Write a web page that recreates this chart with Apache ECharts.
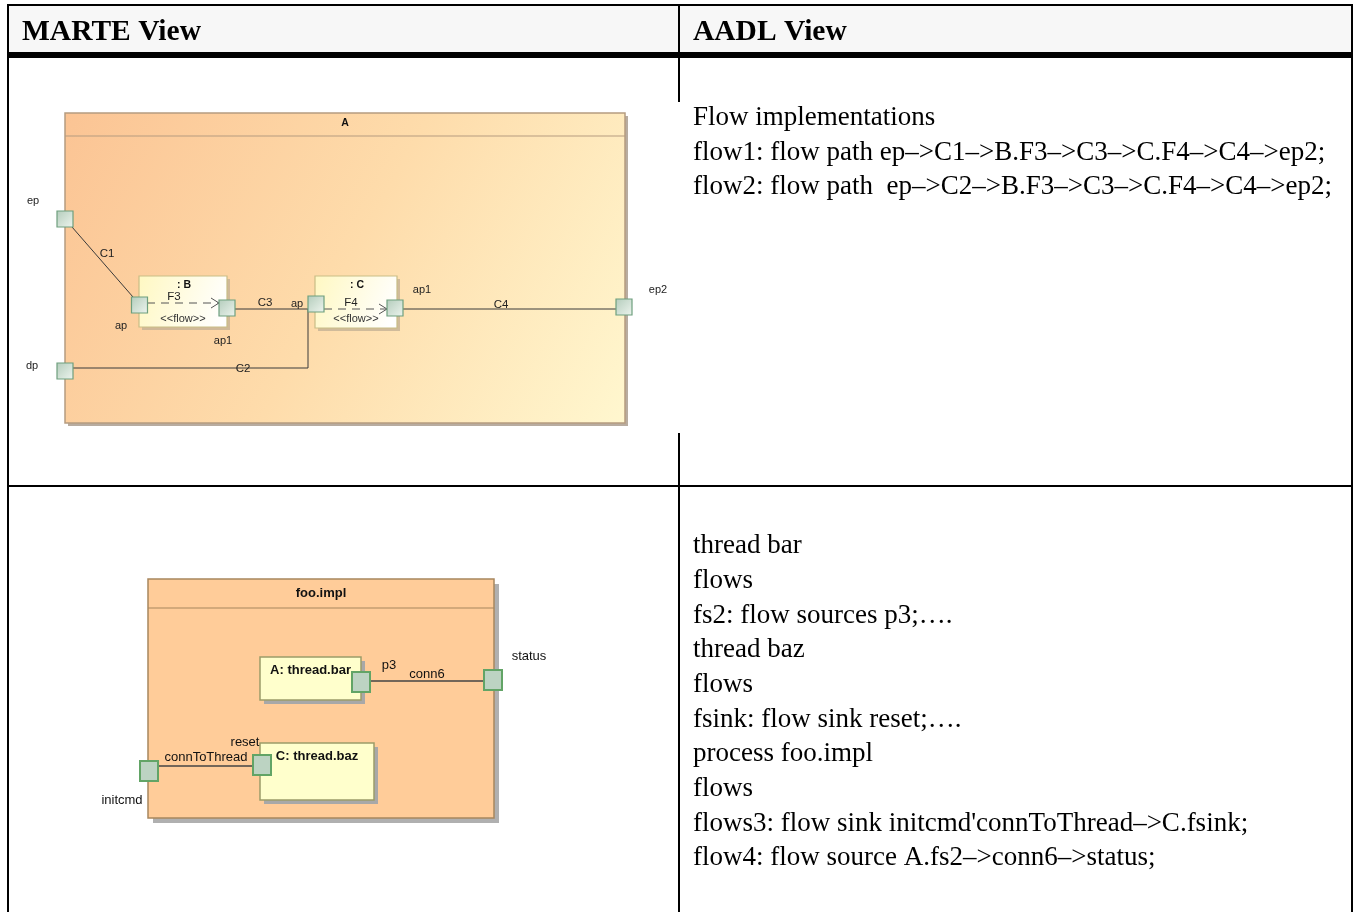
<!DOCTYPE html>
<html><head><meta charset="utf-8">
<script src="https://cdn.jsdelivr.net/npm/echarts@6/dist/echarts.min.js"></script>
<style>html,body{margin:0;padding:0;background:#fff}#c{width:1358px;height:912px}</style>
</head><body><div id="c"></div>
<script>
// ---------- table content ----------
const headerLabels = ['MARTE View', 'AADL View'];
const headerAnchors = [[22, 32], [693, 32]];
const aadlFlowText = [
  'Flow implementations',
  'flow1: flow path ep\u2013>C1\u2013>B.F3\u2013>C3\u2013>C.F4\u2013>C4\u2013>ep2;',
  'flow2: flow path  ep\u2013>C2\u2013>B.F3\u2013>C3\u2013>C.F4\u2013>C4\u2013>ep2;'
];
const aadlFlowAnchors = [[693, 118], [693, 153], [693, 187]];
const aadlProcText = [
  'thread bar', 'flows', 'fs2: flow sources p3;\u2026.', 'thread baz', 'flows',
  'fsink: flow sink reset;\u2026.', 'process foo.impl', 'flows',
  "flows3: flow sink initcmd'connToThread\u2013>C.fsink;",
  'flow4: flow source A.fs2\u2013>conn6\u2013>status;'
];
const aadlProcAnchors = [[693,546],[693,581],[693,616],[693,650],[693,685],[693,720],[693,754],[693,789],[693,824],[693,858]];
const headerBand = [[8, 5, 1352, 55]];
const tableRules = [[7,5,1353,5],[8,5,8,912],[1352,5,1352,912],[679,5,679,102],[679,433,679,912],[8,486,1352,486]];
const headerRule = [[8,55,1352,55]];

// ---------- diagram A (MARTE composite structure) ----------
const aContainerNames = ['A'];
const aContainerBoxes = [[65,113,560,310,23]];
const aPartNames = [': B', ': C'];
const aPartBoxes = [[139,276,88,51],[315,276,82,52]];
const aFlowNames = ['F3', 'F4'];
const aFlowPaths = [[147,303,219,303],[324,309,387,309]];
const aPortNames = ['ep','dp','ap','ap1','ap','ap1','ep2'];
const aPortCenters = [[65,219],[65,371],[139.5,305],[227,308],[316,304],[395,308],[624,307]];
const aPortLabelAt = [[33,201],[32,366],[121,326],[223,341],[297,304],[422,290],[658,290]];
const aConnNames = ['C1','C3','C4','C2'];
const aConnPaths = [[[72,227],[133,297]],[[235,309],[308,309]],[[403,309],[616,309]],[[73,368],[308,368],[308,309]]];
const aConnLabelAt = [[107,254],[265,303],[501,305],[243,369]];

// ---------- diagram foo.impl ----------
const fContainerNames = ['foo.impl'];
const fContainerBoxes = [[148,579,346,239,29]];
const fPartNames = ['A: thread.bar', 'C: thread.baz'];
const fPartBoxes = [[260,657,101,43],[260,743,114,57]];
const fPortNames = ['p3','status','reset','initcmd'];
const fPortCenters = [[361,682],[493,680],[262,765],[149,771]];
const fPortLabelAt = [[389,665],[529,656],[245,742],[122,800]];
const fConnNames = ['conn6','connToThread'];
const fConnPaths = [[[370,681],[484,681]],[[158,766],[253,766]]];
const fConnLabelAt = [[427,674],[206,757]];

// ---------- rendering ----------
const G = echarts.graphic;
function cs(data, build, z){
  return {type:'custom', coordinateSystem:'cartesian2d', silent:true, animation:false, clip:false, z:z||2,
    data:data, encode:{x:0,y:1},
    renderItem:function(params, api){ return build(params.dataIndex, api); }};
}
function txt(api, x, y, s, style){
  const p = api.coord([x,y]);
  return {type:'text', x:p[0], y:p[1], style:Object.assign({text:s, fill:'#222', align:'center', verticalAlign:'middle',
    fontFamily:'Liberation Sans, Arial, sans-serif', fontSize:11}, style||{})};
}
function rectBetween(api, x, y, w, h){
  const p0 = api.coord([x,y]), p1 = api.coord([x+w,y+h]);
  return {x:p0[0], y:p0[1], width:p1[0]-p0[0], height:p1[1]-p0[1]};
}
function lineSeg(api, x1,y1,x2,y2, style){
  const a = api.coord([x1,y1]), b = api.coord([x2,y2]);
  return {type:'line', shape:{x1:a[0],y1:a[1],x2:b[0],y2:b[1]}, style:style};
}
const serif = 'Liberation Serif, Times New Roman, serif';

const series = [];
series.push(cs(headerBand, (i, api) => {
  const b = headerBand[i]; const r = rectBetween(api, b[0], b[1], b[2]-b[0], b[3]-b[1]);
  return {type:'rect', shape:r, style:{fill:'#f7f7f7'}};
}, 1));
series.push(cs(headerAnchors, (i, api) => txt(api, headerAnchors[i][0], headerAnchors[i][1], headerLabels[i],
  {align:'left', fill:'#000', fontFamily:serif, fontWeight:'bold', fontSize:29.5}), 5));
series.push(cs(aadlFlowAnchors, (i, api) => txt(api, aadlFlowAnchors[i][0], aadlFlowAnchors[i][1], aadlFlowText[i],
  {align:'left', fill:'#000', fontFamily:serif, fontSize:27}), 5));
series.push(cs(aadlProcAnchors, (i, api) => txt(api, aadlProcAnchors[i][0], aadlProcAnchors[i][1], aadlProcText[i],
  {align:'left', fill:'#000', fontFamily:serif, fontSize:27}), 5));
series.push(cs(tableRules.map(r=>[r[0],r[1]]), (i, api) => {
  const r = tableRules[i]; return lineSeg(api, r[0], r[1], r[2], r[3], {stroke:'#000', lineWidth:2});
}, 6));
series.push(cs(headerRule.map(r=>[r[0],r[1]]), (i, api) => {
  const r = headerRule[i]; return lineSeg(api, r[0], r[1], r[2], r[3], {stroke:'#000', lineWidth:6});
}, 6));

// ---- diagram A ----
series.push(cs(aContainerBoxes, (i, api) => {
  const b = aContainerBoxes[i];
  const r = rectBetween(api, b[0], b[1], b[2], b[3]);
  const sh = rectBetween(api, b[0]+3, b[1]+3, b[2], b[3]);
  const hy = api.coord([b[0], b[1]+b[4]])[1];
  return {type:'group', children:[
    {type:'rect', shape:sh, style:{fill:'#b8aca0'}},
    {type:'rect', shape:r, style:{fill:new G.LinearGradient(0,0,1,1,[{offset:0,color:'#fbc494'},{offset:0.5,color:'#fedcab'},{offset:1,color:'#fff7cf'}]), stroke:'#b59c80', lineWidth:1.5}},
    {type:'line', shape:{x1:r.x, y1:hy, x2:r.x+r.width, y2:hy}, style:{stroke:'#b59c80', lineWidth:1.2}},
    txt(api, b[0]+b[2]/2, b[1]+b[4]/2-1, aContainerNames[i], {fontWeight:'bold', fontSize:10.5, fill:'#111'})
  ]};
}, 10));
series.push(cs(aPartBoxes, (i, api) => {
  const b = aPartBoxes[i];
  const r = rectBetween(api, b[0], b[1], b[2], b[3]);
  const sh = rectBetween(api, b[0]+3, b[1]+3, b[2], b[3]);
  return {type:'group', children:[
    {type:'rect', shape:sh, style:{fill:'#c4b295', opacity:0.8}},
    {type:'rect', shape:r, style:{fill:new G.LinearGradient(0,0,1,0.6,[{offset:0,color:'#fff8c2'},{offset:1,color:'#ffffff'}]), stroke:'#c9bd86', lineWidth:1.2}},
    txt(api, b[0]+b[2]/2+1, b[1]+9, aPartNames[i], {fontWeight:'bold', fontSize:10.5, fill:'#111'}),
    txt(api, b[0]+b[2]/2, b[1]+43, '<<flow>>', {fontSize:11, fill:'#333'})
  ]};
}, 11));
series.push(cs(aFlowPaths.map(p=>[p[0],p[1]]), (i, api) => {
  const p = aFlowPaths[i];
  const a = api.coord([p[0],p[1]]), b = api.coord([p[2],p[3]]);
  return {type:'group', children:[
    {type:'line', shape:{x1:a[0],y1:a[1],x2:b[0],y2:b[1]}, style:{stroke:'#555', lineWidth:1, lineDash:[8,6]}},
    {type:'polyline', shape:{points:[[b[0]-8,b[1]-5],[b[0],b[1]],[b[0]-8,b[1]+5]]}, style:{stroke:'#555', lineWidth:1, fill:null}},
    txt(api, p[0]+27, p[1]-6, aFlowNames[i], {fontSize:11.5, fill:'#222'})
  ]};
}, 12));
series.push(cs(aConnPaths.map(p=>p[0]), (i, api) => {
  const pts = aConnPaths[i].map(q => api.coord(q));
  return {type:'polyline', shape:{points:pts}, style:{stroke:'#3a3a3a', lineWidth:1, fill:null}};
}, 12));
series.push(cs(aConnLabelAt, (i, api) => txt(api, aConnLabelAt[i][0], aConnLabelAt[i][1], aConnNames[i], {fontSize:11.5}), 14));
series.push(cs(aPortCenters, (i, api) => {
  const c = aPortCenters[i];
  const r = rectBetween(api, c[0]-8, c[1]-8, 16, 16);
  return {type:'rect', shape:r, style:{fill:new G.LinearGradient(0,0,1,1,[{offset:0,color:'#b3ccbb'},{offset:1,color:'#eef5ef'}]), stroke:'#6e9f7e', lineWidth:1.2}};
}, 13));
series.push(cs(aPortLabelAt, (i, api) => txt(api, aPortLabelAt[i][0], aPortLabelAt[i][1], aPortNames[i], {fontSize:11}), 14));

// ---- diagram foo.impl ----
series.push(cs(fContainerBoxes, (i, api) => {
  const b = fContainerBoxes[i];
  const r = rectBetween(api, b[0], b[1], b[2], b[3]);
  const sh = rectBetween(api, b[0]+5, b[1]+5, b[2], b[3]);
  const hy = api.coord([b[0], b[1]+b[4]])[1];
  return {type:'group', children:[
    {type:'rect', shape:sh, style:{fill:'#b0b0b0'}},
    {type:'rect', shape:r, style:{fill:'#ffcc99', stroke:'#a8865e', lineWidth:1.5}},
    {type:'line', shape:{x1:r.x, y1:hy, x2:r.x+r.width, y2:hy}, style:{stroke:'#a8865e', lineWidth:1.2}},
    txt(api, b[0]+b[2]/2, b[1]+14, fContainerNames[i], {fontWeight:'bold', fontSize:13, fill:'#111'})
  ]};
}, 10));
series.push(cs(fPartBoxes, (i, api) => {
  const b = fPartBoxes[i];
  const r = rectBetween(api, b[0], b[1], b[2], b[3]);
  const sh = rectBetween(api, b[0]+4, b[1]+4, b[2], b[3]);
  return {type:'group', children:[
    {type:'rect', shape:sh, style:{fill:'#a8a8a8'}},
    {type:'rect', shape:r, style:{fill:'#ffffcc', stroke:'#9c9c68', lineWidth:1.5}},
    txt(api, b[0]+b[2]/2, b[1]+13, fPartNames[i], {fontWeight:'bold', fontSize:13, fill:'#111'})
  ]};
}, 11));
series.push(cs(fConnPaths.map(p=>p[0]), (i, api) => {
  const pts = fConnPaths[i].map(q => api.coord(q));
  return {type:'polyline', shape:{points:pts}, style:{stroke:'#444', lineWidth:1.5, fill:null}};
}, 12));
series.push(cs(fConnLabelAt, (i, api) => txt(api, fConnLabelAt[i][0], fConnLabelAt[i][1], fConnNames[i], {fontSize:13, fill:'#111'}), 14));
series.push(cs(fPortCenters, (i, api) => {
  const c = fPortCenters[i];
  const r = rectBetween(api, c[0]-9, c[1]-10, 18, 20);
  return {type:'rect', shape:r, style:{fill:'#bcd3c2', stroke:'#62a466', lineWidth:2}};
}, 13));
series.push(cs(fPortLabelAt, (i, api) => txt(api, fPortLabelAt[i][0], fPortLabelAt[i][1], fPortNames[i], {fontSize:13, fill:'#111'}), 14));

const chart = echarts.init(document.getElementById('c'), null, {renderer:'canvas'});
chart.setOption({
  backgroundColor:'#ffffff',
  animation:false,
  grid:{left:0, right:0, top:0, bottom:0},
  xAxis:{type:'value', min:0, max:1358, show:false},
  yAxis:{type:'value', min:0, max:912, inverse:true, show:false},
  series:series
});
</script></body></html>
